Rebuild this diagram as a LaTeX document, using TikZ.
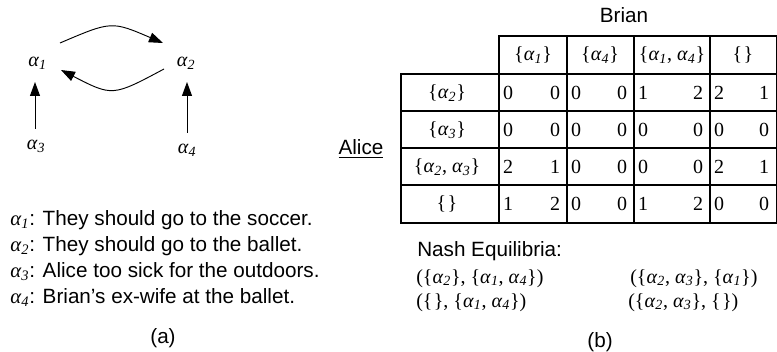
\documentclass[tikz,border=0pt]{standalone}
\usepackage{fontspec}
\setmainfont{Liberation Serif}
\setsansfont{Liberation Sans}
\usetikzlibrary{arrows.meta,calc}
\newcommand\al[1]{\textit{α}\textsubscript{\textit{#1}}}
\newcommand\eset{\{\kern1pt\}}
\begin{document}
\begin{tikzpicture}[x=0.75pt,y=-0.75pt,
  sans/.style={font=\fontsize{15.5}{18}\sffamily, inner sep=0pt, anchor=base},
  ser/.style={font=\fontsize{15}{18}\selectfont, inner sep=0pt, anchor=base},
  arr/.style={-{Triangle[length=10.5pt,width=7.5pt]}, line width=0.7pt},
  gridline/.style={line width=1pt}]
\useasboundingbox (0,0) rectangle (777,352);

% ---------- (a) argument graph ----------
\node[ser] (a1) at (37.5,67) {\al{1}};
\node[ser] (a2) at (186,67) {\al{2}};
\node[ser] (a3) at (36,150) {\al{3}};
\node[ser] (a4) at (187,154) {\al{4}};

\coordinate (s31) at ($(a3.base)+(-1,-21)$);
\coordinate (e31) at ($(a1.base)+(-2.5,15)$);
\coordinate (s42) at ($(a4.base)+(0,-21)$);
\coordinate (e42) at ($(a2.base)+(1,15)$);
\draw[arr] (s31) -- (e31);
\draw[arr] (s42) -- (e42);

\coordinate (t1) at ($(a1.base)+(22.5,-24)$);
\coordinate (t2) at ($(a2.base)+(-23,-24)$);
\coordinate (b2) at ($(a2.base)+(-22,2)$);
\coordinate (b1) at ($(a1.base)+(23.5,3)$);
\draw[arr] (t1) .. controls ($(t1)!0.5!(t2)+(0,-22)$) .. (t2);
\draw[arr] (b2) .. controls ($(b2)!0.5!(b1)+(0,27)$) .. (b1);

% legend
\node[sans, anchor=base west] (l1) at (10,226) {{\rmfamily\al{1}}: They should go to the soccer.};
\node[sans, anchor=base west] (l2) at (10,252) {{\rmfamily\al{2}}: They should go to the ballet.};
\node[sans, anchor=base west] (l3) at (10,278) {{\rmfamily\al{3}}: Alice too sick for the outdoors.};
\node[sans, anchor=base west] (l4) at (10,304) {{\rmfamily\al{4}}: Brian’s ex-wife at the ballet.};
\node[sans] (capa) at (163,343) {(a)};

% ---------- (b) game table ----------
\node[sans] (brian) at (624,23) {Brian};
\node[sans] (alice) at (361,155) {\underline{Alice}};

\draw[gridline] (499,36) rectangle (776.3,74);
\draw[gridline] (401,74) rectangle (776.3,223);
\foreach \yy in {111,148,185} \draw[gridline] (401,\yy) -- (776.3,\yy);
\foreach \xx in {567,634,710} \draw[gridline] (\xx,36) -- (\xx,223);
\draw[gridline] (499,74) -- (499,223);

\node[ser] (h1) at (533,61) {\{\al{1}\}};
\node[ser] (h2) at (600,61) {\{\al{4}\}};
\node[ser] (h3) at (672,61) {\{\al{1}, \al{4}\}};
\node[ser] (h4) at (743,61) {\eset};

\node[ser] (r1) at (447,98.5) {\{\al{2}\}};
\node[ser] (r2) at (447,135.5) {\{\al{3}\}};
\node[ser] (r3) at (447,172.5) {\{\al{2}, \al{3}\}};
\node[ser] (r4) at (447,210) {\eset};

\foreach \r/\yy/\vals in {1/99.5/{0,0,0,0,1,2,2,1},
                          2/136.5/{0,0,0,0,0,0,0,0},
                          3/173.5/{2,1,0,0,0,0,2,1},
                          4/211/{1,2,0,0,1,2,0,0}}{
  \foreach \v [count=\i] in \vals {
    \pgfmathtruncatemacro\c{int((\i+1)/2)}
    \pgfmathtruncatemacro\side{mod(\i,2)}
    \ifnum\c=1 \def\L{499}\def\R{567}\fi
    \ifnum\c=2 \def\L{567}\def\R{634}\fi
    \ifnum\c=3 \def\L{634}\def\R{710}\fi
    \ifnum\c=4 \def\L{710}\def\R{776}\fi
    \ifnum\side=1
      \node[ser] (v\r-\i) at (\L+9,\yy) {\v};
    \else
      \node[ser] (v\r-\i) at (\R-12,\yy) {\v};
    \fi
  }
}

\node[sans, anchor=base west] (ne) at (417,257) {Nash Equilibria:};
\node[ser, anchor=base west] (ne1) at (416,283) {(\{\al{2}\}, \{\al{1}, \al{4}\})};
\node[ser, anchor=base west] (ne2) at (416,307) {(\eset, \{\al{1}, \al{4}\})};
\node[ser, anchor=base west] (ne3) at (630,283) {(\{\al{2}, \al{3}\}, \{\al{1}\})};
\node[ser, anchor=base west] (ne4) at (628,307) {(\{\al{2}, \al{3}\}, \eset)};
\node[sans] (capb) at (600,347) {(b)};
\end{tikzpicture}
\end{document}
